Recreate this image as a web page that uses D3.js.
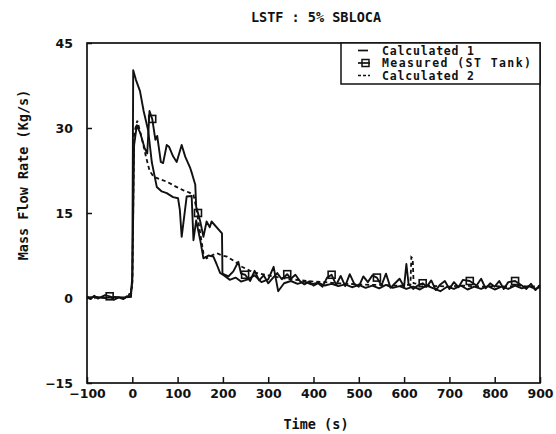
<!DOCTYPE html>
<html>
<head>
<meta charset="utf-8">
<script src="https://cdn.jsdelivr.net/npm/d3@7"></script>
<style>
  body { margin: 0; background: #fff; }
  svg { display: block; }
  .lbl { font-family: "DejaVu Sans Mono", monospace; font-weight: bold; fill: #111; }
  .tick text { font-family: "DejaVu Sans", sans-serif; font-weight: bold; font-size: 12.5px; fill: #111; }
  .tick line { stroke: #111; stroke-width: 1.5; }
</style>
</head>
<body>
<svg width="556" height="434"></svg>
<script>
/* global d3 */

var chartTitle = "LSTF : 5% SBLOCA";
var xTitle = "Time (s)";
var yTitle = "Mass Flow Rate (Kg/s)";
var seriesNames = [ "Calculated 1", "Measured (ST Tank)", "Calculated 2" ];

var xTicks = [ -100, 0, 100, 200, 300, 400, 500, 600, 700, 800, 900 ];
var yTicks = [ -15, 0, 15, 30, 45 ];

// Measured (ST Tank)
var timeMeas = [ -100, -92, -84, -76, -68, -60, -50, -40, -30, -20, -12, -4, 0, 4, 10, 18, 27, 33, 38, 44,
  51, 55, 63, 68, 76, 81, 90, 98, 109, 117, 128, 132, 139, 141, 145, 150, 157, 164, 171, 175, 198, 199,
  212, 223, 234, 240, 249, 260, 270, 280, 290, 300, 310, 320, 330, 342, 350, 360, 370, 380, 390, 400,
  410, 420, 430, 440, 450, 460, 470, 480, 490, 500, 510, 520, 530, 540, 550, 560, 570, 580, 590, 600,
  605, 610, 620, 630, 641, 650, 660, 670, 680, 690, 700, 710, 720, 730, 745, 760, 770, 780, 790, 800,
  810, 820, 830, 845, 860, 870, 880, 890, 900 ];
var valMeas = [ 0.3, -0.2, 0.4, -0.1, 0.2, 0.5, 0.3, -0.3, 0.1, -0.2, 0.3, 0.2, 3, 27, 30.5, 29, 26.5, 25.5, 33, 31.6,
  27.9, 28.6, 24, 23.8, 27, 26.7, 25, 24, 27, 24.9, 22.9, 21.9, 20, 16.1, 15, 13.5, 10.8, 13.5, 12.5, 13.5, 11.4, 4.3,
  3.8, 4.7, 6.4, 4.3, 4.1, 3.0, 4.8, 3.1, 4.0, 2.6, 3.5, 4.4, 3.3, 4.2, 3.4, 4.1, 3.0, 2.4, 2.9, 2.2,
  2.6, 2.0, 3.6, 4.1, 2.3, 3.9, 2.1, 4.2, 2.5, 2.0, 3.8, 2.8, 4.0, 3.6, 2.2, 4.3, 1.8, 2.6, 3.4, 2.0,
  6.0, 2.4, 1.6, 2.2, 2.6, 2.0, 3.1, 1.4, 2.4, 3.0, 1.6, 2.8, 1.9, 3.2, 3.0, 2.2, 3.4, 1.7, 2.6, 2.0,
  3.0, 1.6, 2.8, 3.0, 2.2, 1.6, 2.5, 1.4, 2.3 ];
var markTime = [ -50, 44, 145, 249, 342, 440, 540, 641, 745, 845 ];
var markVal = [ 0.3, 31.6, 15, 4.1, 4.2, 4.1, 3.6, 2.6, 3.0, 3.0 ];

// Calculated 1
var timeCalc1 = [ -100, -80, -60, -40, -20, -3, 0, 2, 8, 17, 25, 35, 43, 54, 65, 76, 90, 101, 105, 109, 114,
  120, 131, 135, 141, 150, 157, 168, 179, 186, 194, 204, 215, 228, 240, 255, 270, 285, 300, 312, 322,
  335, 350, 365, 380, 395, 410, 425, 440, 455, 470, 485, 500, 515, 530, 545, 560, 575, 590, 605, 620,
  635, 650, 665, 680, 695, 710, 725, 740, 755, 770, 785, 800, 815, 830, 845, 860, 875, 890, 900 ];
var valCalc1 = [ 0.1, 0.2, 0, 0.2, 0.1, 0.2, 4, 40.2, 38.5, 36.5, 33, 29.6, 24, 19.6, 18.8, 18.5, 17.8, 17.6, 15.5, 10.8, 14,
  17.9, 18, 10.2, 13.7, 10.2, 7, 7.5, 7.3, 6, 4.4, 3.9, 3.2, 3.6, 2.9, 3.3, 4.0, 2.8, 3.3, 5.5, 1.2,
  2.6, 3.0, 2.5, 2.9, 2.4, 2.7, 2.2, 2.5, 2.1, 2.4, 1.9, 2.3, 1.8, 2.2, 1.7, 2.3, 1.8, 2.1, 1.6, 2.0,
  1.5, 2.2, 1.7, 1.2, 2.0, 1.6, 2.2, 1.5, 2.0, 1.6, 2.1, 1.5, 2.0, 1.6, 2.2, 1.7, 2.1, 1.6, 1.9 ];

// Calculated 2
var timeCalc2 = [ -100, -50, -10, 0, 4, 11, 20, 30, 38, 47, 60, 77, 95, 113, 126, 135, 141, 150, 157, 164,
  175, 187, 198, 209, 227, 242, 260, 280, 300, 325, 350, 375, 400, 425, 450, 475, 500, 525, 550, 575,
  600, 614, 616, 619, 621, 650, 675, 700, 725, 750, 775, 800, 825, 850, 875, 900 ];
var valCalc2 = [ 0, 0.1, 0, 2, 29, 31.3, 28.5, 25, 22.5, 21.4, 21, 20.5, 19.7, 19, 18.6, 18.2, 16, 11.4, 7.9, 7,
  7.5, 7.9, 7.5, 7.3, 6.4, 5.5, 4.8, 4.3, 4.0, 3.6, 3.3, 3.1, 2.9, 2.8, 2.6, 2.5, 2.4, 2.3, 2.3, 2.2,
  2.2, 2.4, 7.2, 7.0, 2.6, 2.2, 2.1, 2.0, 2.2, 2.1, 2.0, 2.1, 2.0, 2.2, 2.0, 2.1 ];

var plotLeft = 87, plotRight = 540, plotTop = 43, plotBottom = 383;

var svg = d3.select( "svg" );

var xScale = d3.scaleLinear().domain( [ -100, 900 ] ).range( [ plotLeft, plotRight ] );
var yScale = d3.scaleLinear().domain( [ -15, 45 ] ).range( [ plotBottom, plotTop ] );

function zip( ts, vs ) {
  return ts.map( ( t, i ) => [ t, vs[ i ] ] );
}

var line = d3.line()
  .x( d => xScale( d[ 0 ] ) )
  .y( d => yScale( d[ 1 ] ) );

// x axis, ticks pointing in
var xAxis = d3.axisBottom( xScale )
  .tickValues( xTicks )
  .tickSize( -6 )
  .tickSizeOuter( 0 )
  .tickPadding( 6 )
  .tickFormat( d3.format( "d" ) );

svg.append( "g" )
  .attr( "transform", "translate(0," + plotBottom + ")" )
  .call( xAxis )
  .call( g => g.select( ".domain" ).remove() )
  .selectAll( ".tick text" ).attr( "dy", "0.75em" );

var yAxis = d3.axisLeft( yScale )
  .tickValues( yTicks )
  .tickSize( -5 )
  .tickSizeOuter( 0 )
  .tickPadding( 14 )
  .tickFormat( d3.format( "d" ) );

svg.append( "g" )
  .attr( "transform", "translate(" + plotLeft + ",0)" )
  .call( yAxis )
  .call( g => g.select( ".domain" ).remove() );

// frame
svg.append( "rect" )
  .attr( "x", plotLeft )
  .attr( "y", plotTop )
  .attr( "width", plotRight - plotLeft )
  .attr( "height", plotBottom - plotTop )
  .attr( "fill", "none" )
  .attr( "stroke", "#111" )
  .attr( "stroke-width", 1.7 );

// series
svg.append( "path" )
  .datum( zip( timeCalc2, valCalc2 ) )
  .attr( "d", line )
  .attr( "fill", "none" )
  .attr( "stroke", "#111" )
  .attr( "stroke-width", 1.8 )
  .attr( "stroke-dasharray", "4,3" );

svg.append( "path" )
  .datum( zip( timeCalc1, valCalc1 ) )
  .attr( "d", line )
  .attr( "fill", "none" )
  .attr( "stroke", "#111" )
  .attr( "stroke-width", 1.9 )
  .attr( "stroke-linejoin", "round" );

svg.append( "path" )
  .datum( zip( timeMeas, valMeas ) )
  .attr( "d", line )
  .attr( "fill", "none" )
  .attr( "stroke", "#111" )
  .attr( "stroke-width", 1.9 )
  .attr( "stroke-linejoin", "round" );

svg.selectAll( "rect.mark" )
  .data( zip( markTime, markVal ) )
  .enter().append( "rect" )
    .attr( "class", "mark" )
    .attr( "x", d => xScale( d[ 0 ] ) - 3.5 )
    .attr( "y", d => yScale( d[ 1 ] ) - 3.5 )
    .attr( "width", 7 )
    .attr( "height", 7 )
    .attr( "fill", "none" )
    .attr( "stroke", "#111" )
    .attr( "stroke-width", 1.6 );

// legend
var lg = svg.append( "g" ).attr( "transform", "translate(341," + plotTop + ")" );

lg.append( "rect" )
  .attr( "width", plotRight - 341 )
  .attr( "height", 41 )
  .attr( "fill", "#fff" )
  .attr( "stroke", "#111" )
  .attr( "stroke-width", 1.5 );

var rowY = [ 7.5, 20, 32.5 ];

lg.selectAll( "text.leg" )
  .data( seriesNames )
  .enter().append( "text" )
    .attr( "class", "lbl leg" )
    .attr( "x", 41 )
    .attr( "y", ( d, i ) => rowY[ i ] )
    .attr( "dy", "0.35em" )
    .style( "font-size", "11.5px" )
    .attr( "textLength", ( d, i ) => [ 92, 149, 92 ][ i ] )
    .text( d => d );

lg.append( "line" )
  .attr( "x1", 17 ).attr( "x2", 27 )
  .attr( "y1", rowY[ 0 ] ).attr( "y2", rowY[ 0 ] )
  .attr( "stroke", "#111" ).attr( "stroke-width", 1.7 );

lg.append( "line" )
  .attr( "x1", 17 ).attr( "x2", 29 )
  .attr( "y1", rowY[ 1 ] ).attr( "y2", rowY[ 1 ] )
  .attr( "stroke", "#111" ).attr( "stroke-width", 1.7 );

lg.append( "rect" )
  .attr( "x", 21 ).attr( "y", rowY[ 1 ] - 3.5 )
  .attr( "width", 7 ).attr( "height", 7 )
  .attr( "fill", "none" )
  .attr( "stroke", "#111" ).attr( "stroke-width", 1.5 );

lg.append( "line" )
  .attr( "x1", 17 ).attr( "x2", 29 )
  .attr( "y1", rowY[ 2 ] ).attr( "y2", rowY[ 2 ] )
  .attr( "stroke", "#111" ).attr( "stroke-width", 1.5 )
  .attr( "stroke-dasharray", "3,2" );

// titles
svg.append( "text" )
  .attr( "class", "lbl" )
  .attr( "x", 316 )
  .attr( "y", 17 )
  .attr( "dy", "0.35em" )
  .attr( "text-anchor", "middle" )
  .style( "font-size", "13.5px" )
  .text( chartTitle );

svg.append( "text" )
  .attr( "class", "lbl" )
  .attr( "x", 316 )
  .attr( "y", 424 )
  .attr( "dy", "0.35em" )
  .attr( "text-anchor", "middle" )
  .style( "font-size", "13.5px" )
  .text( xTitle );

svg.append( "text" )
  .attr( "class", "lbl" )
  .attr( "transform", "translate(23,175) rotate(-90)" )
  .attr( "dy", "0.35em" )
  .attr( "text-anchor", "middle" )
  .style( "font-size", "13.5px" )
  .text( yTitle );
</script>
</body>
</html>
